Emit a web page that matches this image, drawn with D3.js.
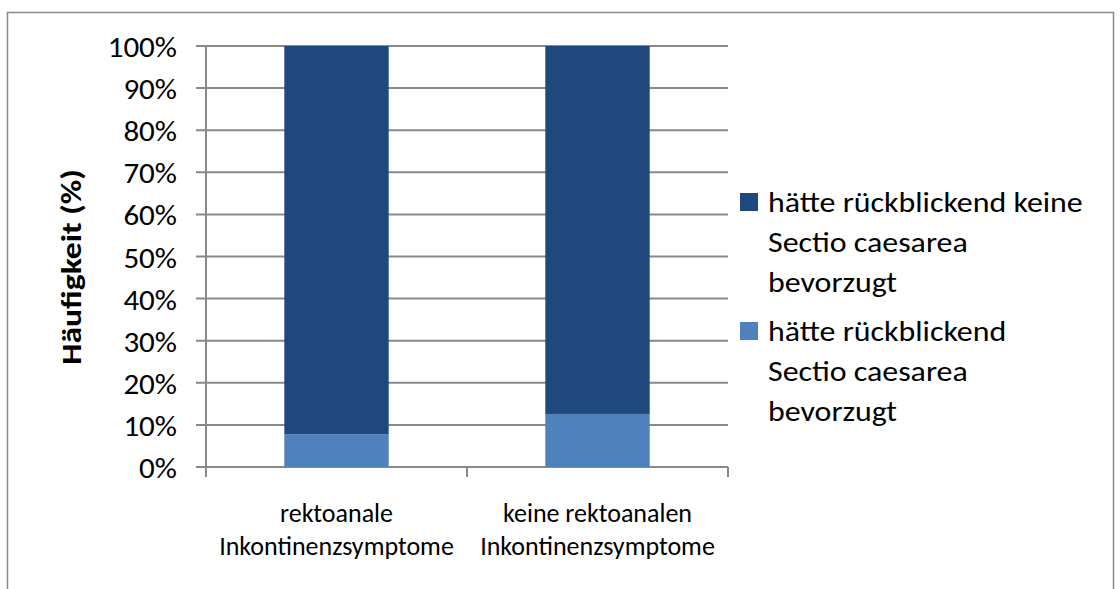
<!DOCTYPE html>
<html>
<head>
<meta charset="utf-8">
<script src="https://cdn.jsdelivr.net/npm/d3@7"></script>
<style>
  body { margin: 0; background: #fff; }
  svg { display: block; font-family: Carlito, "Liberation Sans", Arial, sans-serif; }
</style>
</head>
<body>
<script>
// data
const categories = ["rektoanale Inkontinenzsymptome", "keine rektoanalen Inkontinenzsymptome"];
const categoryLines = [["rektoanale", "Inkontinenzsymptome"], ["keine rektoanalen", "Inkontinenzsymptome"]];
const seriesNames = ["hätte rückblickend Sectio caesarea bevorzugt", "hätte rückblickend keine Sectio caesarea bevorzugt"];
const preferredCS = [7.8, 12.6];
const notPreferredCS = [92.2, 87.4];
const yTicks = [0, 10, 20, 30, 40, 50, 60, 70, 80, 90, 100];
const legendLines = [
    ["hätte rückblickend keine", "Sectio caesarea", "bevorzugt"],
    ["hätte rückblickend", "Sectio caesarea", "bevorzugt"]
];

// constants
const width = 1120;
const height = 589;
const plot = { left: 206, right: 728, top: 46, bottom: 467 };
const colors = ["#4f81bd", "#1f497d"];
const grid = "#898989";

const rows = categories.map((c, i) => ({ cat: c, s0: preferredCS[i], s1: notPreferredCS[i] }));
const stacked = d3.stack().keys(["s0", "s1"])(rows);

const x = d3.scaleBand()
    .domain(categories)
    .range([plot.left, plot.right])
    .paddingInner(0.6)
    .paddingOuter(0.3);

const y = d3.scaleLinear()
    .domain([0, 100])
    .range([plot.bottom, plot.top]);

const svg = d3.select("body").append("svg")
    .attr("width", width)
    .attr("height", height);

// outer frame
svg.append("rect")
    .attr("x", 7.5).attr("y", 12.5)
    .attr("width", 1106).attr("height", 600)
    .style("fill", "none")
    .style("stroke", grid)
    .style("stroke-width", 1.5);

// gridlines + y ticks
svg.append("g")
    .selectAll("line")
    .data(yTicks)
    .join("line")
    .attr("x1", plot.left - 10)
    .attr("x2", plot.right)
    .attr("y1", d => y(d))
    .attr("y2", d => y(d))
    .style("stroke", grid)
    .style("stroke-width", 2);

svg.append("g")
    .selectAll("text")
    .data(yTicks)
    .join("text")
    .attr("transform", d => `translate(177,${y(d) + 11}) scale(1.07,1)`)
    .attr("text-anchor", "end")
    .style("font-size", "29px")
    .style("fill", "#000")
    .text(d => d + "%");

// bars
svg.append("g")
    .selectAll("g")
    .data(stacked)
    .join("g")
    .style("fill", (d, i) => colors[i])
    .selectAll("rect")
    .data(d => d)
    .join("rect")
    .attr("x", d => x(d.data.cat))
    .attr("width", x.bandwidth())
    .attr("y", d => y(d[1]))
    .attr("height", d => y(d[0]) - y(d[1]));

// y axis line
svg.append("line")
    .attr("x1", plot.left).attr("x2", plot.left)
    .attr("y1", plot.top).attr("y2", plot.bottom + 10)
    .style("stroke", grid)
    .style("stroke-width", 2);

// x category separators
const sepX = [plot.left, plot.left + (plot.right - plot.left) / 2, plot.right];
svg.append("g")
    .selectAll("line")
    .data(sepX)
    .join("line")
    .attr("x1", d => d).attr("x2", d => d)
    .attr("y1", plot.bottom).attr("y2", plot.bottom + 10)
    .style("stroke", grid)
    .style("stroke-width", 2);

// x labels
categories.forEach((c, i) => {
    categoryLines[i].forEach((line, j) => {
        svg.append("text")
            .attr("transform", `translate(${x(c) + x.bandwidth() / 2},${522 + j * 33})`)
            .attr("text-anchor", "middle")
            .style("font-size", "26px")
            .style("fill", "#000")
            .text(line);
    });
});

// axis title
svg.append("text")
    .attr("transform", "translate(81,267) rotate(-90) scale(1.16,1)")
    .attr("text-anchor", "middle")
    .style("font-size", "29px")
    .style("font-weight", "bold")
    .text("Häufigkeit (%)");

// legend
const legendColors = [colors[1], colors[0]];
legendLines.forEach((lines, i) => {
    const base = 212 + i * 129;
    svg.append("rect")
        .attr("x", 740)
        .attr("y", base - 19)
        .attr("width", 18)
        .attr("height", 18)
        .style("fill", legendColors[i]);
    lines.forEach((line, j) => {
        svg.append("text")
            .attr("transform", `translate(768,${base + j * 40}) scale(1.1,1)`)
            .style("font-size", "29px")
            .style("fill", "#000")
            .text(line);
    });
});
</script>
</body>
</html>
